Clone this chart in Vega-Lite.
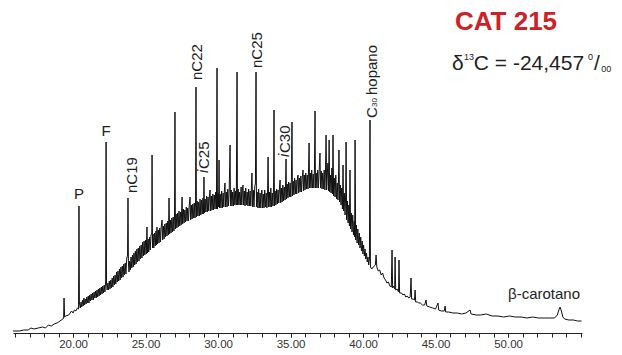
{
  "$schema": "https://vega.github.io/schema/vega-lite/v6.json",
  "autosize": {"type": "none"},
  "width": 569,
  "height": 333,
  "padding": {"left": 13, "top": 0, "right": 40, "bottom": 22},
  "background": "white",
  "config": {"view": {"stroke": null}, "font": "Liberation Sans"},
  "resolve": {"axis": {"x": "independent"}},
  "datasets": {
    "trace": [
      {"t":15.86,"i":2},{"t":16.3,"i":2},{"t":16.6,"i":3},{"t":16.9,"i":3},{"t":17.1,"i":5},{"t":17.3,"i":4},{"t":17.6,"i":5},{"t":17.9,"i":6},{"t":18.1,"i":5},{"t":18.3,"i":8},{"t":18.5,"i":7},{"t":18.7,"i":9},{"t":18.9,"i":10},{"t":19.1,"i":12},{"t":19.3,"i":14},{"t":19.35,"i":15},{"t":19.38,"i":35},{"t":19.42,"i":16},{"t":19.5,"i":17},{"t":19.7,"i":18},{"t":19.9,"i":22},{"t":20.0,"i":20},{"t":20.1,"i":23},{"t":20.2,"i":22},{"t":20.3,"i":25},{"t":20.38,"i":24},{"t":20.41,"i":127},{"t":20.44,"i":30},
      {"t":20.5,"i":25},{"t":20.55,"i":31},{"t":20.6,"i":26},{"t":20.65,"i":33},{"t":20.7,"i":27},{"t":20.75,"i":35},{"t":20.8,"i":28},{"t":20.85,"i":34},{"t":20.9,"i":29},{"t":20.95,"i":36},{"t":21.0,"i":30},{"t":21.05,"i":37},{"t":21.1,"i":30},{"t":21.15,"i":38},{"t":21.2,"i":32},{"t":21.25,"i":39},{"t":21.3,"i":33},{"t":21.35,"i":40},{"t":21.4,"i":33},{"t":21.45,"i":41},{"t":21.5,"i":35},{"t":21.55,"i":42},{"t":21.6,"i":35},{"t":21.65,"i":43},{"t":21.7,"i":36},{"t":21.75,"i":44},{"t":21.8,"i":37},{"t":21.85,"i":45},{"t":21.9,"i":38},{"t":21.95,"i":46},{"t":22.0,"i":39},{"t":22.05,"i":47},{"t":22.1,"i":40},{"t":22.15,"i":48},{"t":22.2,"i":41},{"t":22.25,"i":52},{"t":22.28,"i":191},{"t":22.31,"i":50},{"t":22.35,"i":43},{"t":22.4,"i":50},{"t":22.45,"i":43},{"t":22.5,"i":52},{"t":22.55,"i":44},{"t":22.6,"i":53},{"t":22.65,"i":45},{"t":22.7,"i":55},{"t":22.75,"i":46},{"t":22.8,"i":57},{"t":22.85,"i":48},{"t":22.9,"i":58},{"t":22.95,"i":49},{"t":23.0,"i":61},{"t":23.05,"i":51},{"t":23.1,"i":62},{"t":23.15,"i":52},{"t":23.2,"i":64},{"t":23.25,"i":53},{"t":23.3,"i":66},{"t":23.35,"i":55},{"t":23.4,"i":67},{"t":23.45,"i":56},{"t":23.5,"i":69},{"t":23.55,"i":58},{"t":23.6,"i":70},{"t":23.65,"i":59},{"t":23.7,"i":74},{"t":23.76,"i":78},{"t":23.79,"i":135},{"t":23.82,"i":70},{"t":23.86,"i":61},{"t":23.9,"i":72},{"t":23.95,"i":63},{"t":24.0,"i":76},{"t":24.05,"i":65},{"t":24.1,"i":78},{"t":24.15,"i":66},{"t":24.2,"i":80},{"t":24.25,"i":68},{"t":24.3,"i":82},{"t":24.35,"i":69},{"t":24.4,"i":84},{"t":24.45,"i":71},{"t":24.5,"i":85},{"t":24.55,"i":72},{"t":24.6,"i":87},{"t":24.65,"i":74},{"t":24.7,"i":88},{"t":24.75,"i":75},{"t":24.8,"i":91},{"t":24.85,"i":77},{"t":24.9,"i":92},{"t":24.95,"i":78},{"t":25.0,"i":93},{"t":25.05,"i":79},{"t":25.1,"i":106},{"t":25.13,"i":80},{"t":25.18,"i":94},{"t":25.22,"i":81},{"t":25.28,"i":96},{"t":25.32,"i":83},{"t":25.38,"i":98},{"t":25.43,"i":100},{"t":25.45,"i":178},{"t":25.48,"i":85},{"t":25.52,"i":99},{"t":25.57,"i":85},{"t":25.62,"i":100},{"t":25.67,"i":87},{"t":25.72,"i":102},{"t":25.76,"i":88},{"t":25.79,"i":106},{"t":25.83,"i":89},{"t":25.88,"i":103},{"t":25.93,"i":90},{"t":25.98,"i":105},{"t":26.03,"i":91},{"t":26.08,"i":106},{"t":26.14,"i":113},{"t":26.18,"i":93},{"t":26.23,"i":107},{"t":26.28,"i":94},{"t":26.33,"i":109},{"t":26.38,"i":96},{"t":26.43,"i":110},{"t":26.48,"i":97},{"t":26.53,"i":112},{"t":26.58,"i":98},{"t":26.62,"i":135},{"t":26.66,"i":99},{"t":26.71,"i":113},{"t":26.76,"i":100},{"t":26.81,"i":115},{"t":26.86,"i":101},{"t":26.91,"i":116},{"t":26.96,"i":102},{"t":27.0,"i":118},{"t":27.03,"i":221},{"t":27.06,"i":104},{"t":27.11,"i":119},{"t":27.16,"i":105},{"t":27.21,"i":120},{"t":27.26,"i":106},{"t":27.31,"i":122},{"t":27.36,"i":107},{"t":27.41,"i":121},{"t":27.46,"i":108},{"t":27.52,"i":136},{"t":27.56,"i":109},{"t":27.61,"i":124},{"t":27.66,"i":110},{"t":27.71,"i":123},{"t":27.76,"i":111},{"t":27.81,"i":126},{"t":27.86,"i":112},{"t":27.91,"i":125},{"t":27.96,"i":112},{"t":28.01,"i":127},{"t":28.07,"i":136},{"t":28.11,"i":113},{"t":28.16,"i":128},{"t":28.21,"i":114},{"t":28.26,"i":129},{"t":28.31,"i":115},{"t":28.36,"i":130},{"t":28.41,"i":115},{"t":28.45,"i":131},{"t":28.48,"i":246},{"t":28.51,"i":116},{"t":28.56,"i":132},{"t":28.61,"i":117},{"t":28.66,"i":131},{"t":28.71,"i":117},{"t":28.76,"i":134},{"t":28.81,"i":118},{"t":28.86,"i":133},{"t":28.91,"i":119},{"t":28.96,"i":135},{"t":29.0,"i":119},{"t":29.03,"i":156},{"t":29.06,"i":120},{"t":29.11,"i":134},{"t":29.16,"i":121},{"t":29.21,"i":137},{"t":29.26,"i":121},{"t":29.31,"i":136},{"t":29.36,"i":122},{"t":29.41,"i":138},{"t":29.45,"i":143},{"t":29.49,"i":122},{"t":29.54,"i":137},{"t":29.59,"i":123},{"t":29.64,"i":139},{"t":29.69,"i":123},{"t":29.74,"i":138},{"t":29.79,"i":124},{"t":29.84,"i":141},{"t":29.89,"i":124},{"t":29.93,"i":265},{"t":29.96,"i":124},{"t":30.01,"i":140},{"t":30.04,"i":126},{"t":30.07,"i":173},{"t":30.1,"i":125},{"t":30.15,"i":139},{"t":30.2,"i":125},{"t":30.25,"i":142},{"t":30.3,"i":125},{"t":30.35,"i":140},{"t":30.4,"i":126},{"t":30.44,"i":143},{"t":30.48,"i":150},{"t":30.52,"i":126},{"t":30.57,"i":141},{"t":30.62,"i":126},{"t":30.67,"i":144},{"t":30.72,"i":127},{"t":30.77,"i":142},{"t":30.83,"i":188},{"t":30.86,"i":127},{"t":30.91,"i":143},{"t":30.96,"i":127},{"t":31.01,"i":141},{"t":31.06,"i":127},{"t":31.11,"i":145},{"t":31.16,"i":128},{"t":31.21,"i":142},{"t":31.26,"i":128},{"t":31.31,"i":261},{"t":31.34,"i":128},{"t":31.39,"i":144},{"t":31.44,"i":128},{"t":31.49,"i":141},{"t":31.54,"i":128},{"t":31.59,"i":146},{"t":31.64,"i":128},{"t":31.68,"i":143},{"t":31.72,"i":148},{"t":31.76,"i":128},{"t":31.81,"i":142},{"t":31.86,"i":127},{"t":31.91,"i":145},{"t":31.96,"i":128},{"t":32.01,"i":141},{"t":32.06,"i":127},{"t":32.11,"i":144},{"t":32.16,"i":127},{"t":32.21,"i":142},{"t":32.26,"i":127},{"t":32.3,"i":145},{"t":32.34,"i":160},{"t":32.38,"i":126},{"t":32.43,"i":143},{"t":32.48,"i":126},{"t":32.53,"i":146},{"t":32.58,"i":150},{"t":32.62,"i":261},{"t":32.65,"i":126},{"t":32.7,"i":141},{"t":32.75,"i":125},{"t":32.8,"i":144},{"t":32.85,"i":125},{"t":32.9,"i":140},{"t":32.95,"i":125},{"t":33.0,"i":142},{"t":33.03,"i":143},{"t":33.07,"i":125},{"t":33.12,"i":139},{"t":33.17,"i":125},{"t":33.22,"i":143},{"t":33.27,"i":126},{"t":33.32,"i":140},{"t":33.37,"i":125},{"t":33.42,"i":144},{"t":33.45,"i":176},{"t":33.49,"i":126},{"t":33.54,"i":141},{"t":33.59,"i":126},{"t":33.64,"i":145},{"t":33.69,"i":126},{"t":33.74,"i":140},{"t":33.79,"i":127},{"t":33.83,"i":146},{"t":33.86,"i":223},{"t":33.89,"i":127},{"t":33.94,"i":142},{"t":33.99,"i":128},{"t":34.04,"i":144},{"t":34.09,"i":129},{"t":34.14,"i":143},{"t":34.19,"i":130},{"t":34.24,"i":146},{"t":34.28,"i":153},{"t":34.32,"i":130},{"t":34.37,"i":145},{"t":34.42,"i":131},{"t":34.47,"i":148},{"t":34.52,"i":132},{"t":34.57,"i":146},{"t":34.62,"i":133},{"t":34.66,"i":150},{"t":34.69,"i":174},{"t":34.72,"i":134},{"t":34.77,"i":149},{"t":34.82,"i":135},{"t":34.87,"i":151},{"t":34.92,"i":136},{"t":34.97,"i":150},{"t":35.02,"i":136},{"t":35.06,"i":154},{"t":35.1,"i":211},{"t":35.13,"i":137},{"t":35.18,"i":152},{"t":35.23,"i":138},{"t":35.28,"i":155},{"t":35.33,"i":139},{"t":35.38,"i":153},{"t":35.43,"i":139},{"t":35.48,"i":156},{"t":35.52,"i":158},{"t":35.56,"i":140},{"t":35.61,"i":155},{"t":35.66,"i":141},{"t":35.71,"i":157},{"t":35.76,"i":141},{"t":35.81,"i":156},{"t":35.86,"i":163},{"t":35.9,"i":142},{"t":35.95,"i":158},{"t":36.0,"i":143},{"t":36.05,"i":160},{"t":36.1,"i":144},{"t":36.15,"i":158},{"t":36.2,"i":144},{"t":36.24,"i":162},{"t":36.28,"i":190},{"t":36.31,"i":145},{"t":36.36,"i":160},{"t":36.41,"i":145},{"t":36.46,"i":163},{"t":36.51,"i":145},{"t":36.56,"i":159},{"t":36.61,"i":145},{"t":36.65,"i":164},{"t":36.69,"i":222},{"t":36.72,"i":145},{"t":36.77,"i":160},{"t":36.82,"i":145},{"t":36.87,"i":163},{"t":36.92,"i":145},{"t":36.97,"i":161},{"t":37.03,"i":180},{"t":37.07,"i":145},{"t":37.12,"i":162},{"t":37.17,"i":144},{"t":37.22,"i":160},{"t":37.27,"i":144},{"t":37.32,"i":163},{"t":37.37,"i":143},{"t":37.41,"i":162},{"t":37.45,"i":198},{"t":37.49,"i":143},{"t":37.54,"i":160},{"t":37.58,"i":170},{"t":37.62,"i":142},{"t":37.66,"i":193},{"t":37.7,"i":141},{"t":37.75,"i":158},{"t":37.8,"i":140},{"t":37.85,"i":165},{"t":37.89,"i":139},{"t":37.93,"i":198},{"t":37.97,"i":137},{"t":38.02,"i":155},{"t":38.07,"i":136},{"t":38.12,"i":158},{"t":38.17,"i":134},{"t":38.22,"i":150},{"t":38.27,"i":133},{"t":38.31,"i":155},{"t":38.34,"i":183},{"t":38.38,"i":131},{"t":38.43,"i":148},{"t":38.48,"i":128},{"t":38.53,"i":145},{"t":38.58,"i":124},{"t":38.62,"i":168},{"t":38.66,"i":122},{"t":38.71,"i":140},{"t":38.76,"i":118},{"t":38.8,"i":138},{"t":38.83,"i":191},{"t":38.87,"i":113},{"t":38.92,"i":132},{"t":38.97,"i":110},{"t":39.02,"i":128},{"t":39.06,"i":107},{"t":39.1,"i":163},{"t":39.14,"i":104},{"t":39.19,"i":120},{"t":39.24,"i":101},{"t":39.29,"i":118},{"t":39.34,"i":98},{"t":39.39,"i":112},{"t":39.42,"i":96},{"t":39.45,"i":193},{"t":39.49,"i":93},{"t":39.54,"i":108},{"t":39.59,"i":90},{"t":39.64,"i":104},{"t":39.69,"i":88},{"t":39.74,"i":100},{"t":39.79,"i":85},{"t":39.84,"i":96},{"t":39.89,"i":82},{"t":39.94,"i":92},{"t":39.99,"i":79},{"t":40.04,"i":88},{"t":40.09,"i":77},{"t":40.14,"i":84},{"t":40.19,"i":74},{"t":40.24,"i":80},{"t":40.29,"i":71},{"t":40.34,"i":76},{"t":40.39,"i":68},{"t":40.44,"i":74},{"t":40.48,"i":213},{"t":40.51,"i":66},{"t":40.6,"i":64},{"t":40.7,"i":66},
      {"t":40.85,"i":68},{"t":40.9,"i":78},{"t":40.95,"i":66},{"t":41.05,"i":62},{"t":41.15,"i":63},{"t":41.25,"i":58},{"t":41.35,"i":60},{"t":41.45,"i":55},{"t":41.55,"i":53},{"t":41.65,"i":50},{"t":41.75,"i":51},{"t":41.85,"i":47},{"t":41.95,"i":46},{"t":42.0,"i":83},{"t":42.04,"i":45},{"t":42.1,"i":47},{"t":42.18,"i":44},{"t":42.21,"i":76},{"t":42.25,"i":43},{"t":42.35,"i":44},{"t":42.45,"i":41},{"t":42.48,"i":73},{"t":42.52,"i":40},{"t":42.65,"i":40},{"t":42.75,"i":38},{"t":42.85,"i":39},{"t":42.95,"i":36},{"t":43.05,"i":37},{"t":43.15,"i":35},{"t":43.25,"i":36},{"t":43.31,"i":55},{"t":43.35,"i":34},{"t":43.45,"i":34},{"t":43.55,"i":33},{"t":43.59,"i":43},{"t":43.63,"i":31},{"t":43.75,"i":31},{"t":43.85,"i":30},{"t":43.95,"i":30},{"t":44.1,"i":28},{"t":44.25,"i":28},{"t":44.34,"i":33},{"t":44.4,"i":27},{"t":44.6,"i":26},{"t":44.8,"i":25},{"t":45.0,"i":24},{"t":45.17,"i":30},{"t":45.22,"i":23},{"t":45.4,"i":22},{"t":45.6,"i":22},{"t":45.66,"i":27},{"t":45.7,"i":21},{"t":45.9,"i":21},{"t":46.2,"i":20},{"t":46.5,"i":20},{"t":46.8,"i":19},{"t":47.1,"i":20},{"t":47.38,"i":23},{"t":47.45,"i":19},{"t":47.8,"i":18},{"t":48.1,"i":18},{"t":48.5,"i":19},{"t":48.9,"i":17},{"t":49.3,"i":17},{"t":49.7,"i":16},{"t":50.1,"i":17},{"t":50.5,"i":16},{"t":50.9,"i":16},{"t":51.3,"i":15},{"t":51.7,"i":16},{"t":52.1,"i":15},{"t":52.5,"i":15},{"t":52.9,"i":15},{"t":53.2,"i":15},{"t":53.4,"i":18},{"t":53.5,"i":23},{"t":53.59,"i":26},{"t":53.68,"i":22},{"t":53.78,"i":16},{"t":53.9,"i":14},{"t":54.2,"i":13},{"t":54.5,"i":13},{"t":54.8,"i":12},{"t":55.07,"i":12}
    ]
  },
  "layer": [
    {
      "data": {"name": "trace"},
      "mark": {"type": "line", "color": "#111111", "strokeWidth": 1, "clip": true},
      "encoding": {
        "x": {"field": "t", "type": "quantitative", "scale": {"domain": [15.86, 55.1], "nice": false, "zero": false},
          "axis": {"orient": "bottom", "title": null, "grid": false, "values": [16,17,18,19,20,21,22,23,24,25,26,27,28,29,30,31,32,33,34,35,36,37,38,39,40,41,42,43,44,45,46,47,48,49,50,51,52,53,54,55],
            "labels": false, "tickSize": 4, "tickColor": "#222222", "domainColor": "#222222"}},
        "y": {"field": "i", "type": "quantitative", "scale": {"domain": [0, 333], "nice": false, "zero": true}, "axis": null}
      }
    },
    {
      "data": {"values": [{"t": 20.41, "i": 139, "label": "P"}, {"t": 22.28, "i": 202, "label": "F"}]},
      "mark": {"type": "text", "font": "Liberation Sans", "fontSize": 15, "color": "#222222", "align": "center", "baseline": "middle"},
      "encoding": {
        "x": {"field": "t", "type": "quantitative",
          "axis": {"orient": "bottom", "title": null, "grid": false, "values": [20, 25, 30, 35, 40, 45, 50], "format": ".2f", "domain": false,
            "labelFont": "Liberation Sans", "labelFontSize": 11.5, "labelColor": "#333333", "tickSize": 4, "tickColor": "#222222",
            "labelPadding": 1, "labelOverlap": false, "labelFlush": false}},
        "y": {"field": "i", "type": "quantitative"},
        "text": {"field": "label"}
      }
    },
    {
      "data": {"values": [
        {"t": 24.07, "i": 140, "label": "nC19"},
        {"t": 28.52, "i": 253, "label": "nC22"},
        {"t": 32.69, "i": 265, "label": "nC25"},
        {"t": 29.03, "i": 164, "label": "C25"},
        {"t": 34.62, "i": 180, "label": "C30"},
        {"t": 40.62, "i": 215, "label": "C"},
        {"t": 40.62, "i": 238, "label": "hopano"}
      ]},
      "mark": {"type": "text", "font": "Liberation Sans", "fontSize": 15, "color": "#222222", "align": "left", "baseline": "middle", "angle": 270},
      "encoding": {"x": {"field": "t", "type": "quantitative", "axis": null}, "y": {"field": "i", "type": "quantitative"}, "text": {"field": "label"}}
    },
    {
      "data": {"values": [{"t": 28.95, "i": 160, "label": "i"}, {"t": 34.54, "i": 176, "label": "i"}]},
      "mark": {"type": "text", "font": "Liberation Sans", "fontSize": 15, "fontStyle": "italic", "color": "#222222", "align": "left", "baseline": "middle", "angle": 270},
      "encoding": {"x": {"field": "t", "type": "quantitative", "axis": null}, "y": {"field": "i", "type": "quantitative"}, "text": {"field": "label"}}
    },
    {
      "data": {"values": [{"t": 40.83, "i": 226, "label": "30"}]},
      "mark": {"type": "text", "font": "Liberation Sans", "fontSize": 8, "color": "#222222", "align": "left", "baseline": "middle", "angle": 270},
      "encoding": {"x": {"field": "t", "type": "quantitative", "axis": null}, "y": {"field": "i", "type": "quantitative"}, "text": {"field": "label"}}
    },
    {
      "data": {"values": [{"t": 50.0, "i": 39, "label": "β-carotano"}]},
      "mark": {"type": "text", "font": "Liberation Sans", "fontSize": 15, "color": "#222222", "align": "left", "baseline": "middle"},
      "encoding": {"x": {"field": "t", "type": "quantitative", "axis": null}, "y": {"field": "i", "type": "quantitative"}, "text": {"field": "label"}}
    },
    {
      "data": {"values": [{"t": 46.34, "i": 303, "label": "CAT 215"}]},
      "mark": {"type": "text", "font": "Liberation Sans", "fontSize": 26, "fontWeight": "bold", "color": "#cc2229", "align": "left", "baseline": "alphabetic"},
      "encoding": {"x": {"field": "t", "type": "quantitative", "axis": null}, "y": {"field": "i", "type": "quantitative"}, "text": {"field": "label"}}
    },
    {
      "data": {"values": [
        {"t": 46.14, "i": 263, "label": "δ"},
        {"t": 47.64, "i": 263, "label": "C = -24,457"},
        {"t": 55.93, "i": 263, "label": "/"}
      ]},
      "mark": {"type": "text", "font": "Liberation Sans", "fontSize": 21, "color": "#222222", "align": "left", "baseline": "alphabetic"},
      "encoding": {"x": {"field": "t", "type": "quantitative", "axis": null}, "y": {"field": "i", "type": "quantitative"}, "text": {"field": "label"}}
    },
    {
      "data": {"values": [
        {"t": 46.97, "i": 273, "label": "13"},
        {"t": 55.52, "i": 273, "label": "0"},
        {"t": 56.42, "i": 261, "label": "00"}
      ]},
      "mark": {"type": "text", "font": "Liberation Sans", "fontSize": 9, "color": "#222222", "align": "left", "baseline": "alphabetic"},
      "encoding": {"x": {"field": "t", "type": "quantitative", "axis": null}, "y": {"field": "i", "type": "quantitative"}, "text": {"field": "label"}}
    }
  ]
}
